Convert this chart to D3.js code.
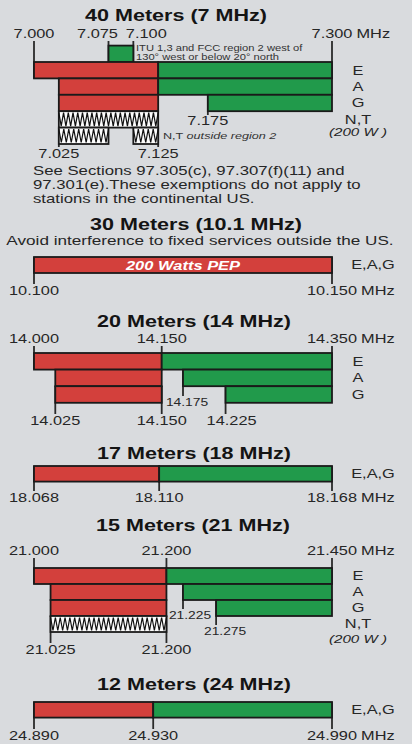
<!DOCTYPE html>
<html>
<head>
<meta charset="utf-8">
<script src="https://cdn.jsdelivr.net/npm/d3@7"></script>
<style>
  html, body { margin: 0; padding: 0; background: #d9dbde; }
  svg { display: block; font-family: "Liberation Sans", Arial, sans-serif; }
</style>
</head>
<body>
<svg id="chart" width="412" height="744"></svg>
<script>
// ---- band data ----
const titles = ["40 Meters (7 MHz)", "30 Meters (10.1 MHz)", "20 Meters (14 MHz)",
                "17 Meters (18 MHz)", "15 Meters (21 MHz)", "12 Meters (24 MHz)"];
const edges = [[7.000, 7.300], [10.100, 10.150], [14.000, 14.350],
               [18.068, 18.168], [21.000, 21.450], [24.890, 24.990]];

// segments: [row, from MHz, to MHz, kind]  cw = red, ph = green, nt = zigzag
const seg40 = [
  ["ITU", 7.075, 7.100, "ph"],
  ["E", 7.000, 7.125, "cw"], ["E", 7.125, 7.300, "ph"],
  ["A", 7.025, 7.125, "cw"], ["A", 7.125, 7.300, "ph"],
  ["G", 7.025, 7.125, "cw"], ["G", 7.175, 7.300, "ph"],
  ["N,T", 7.025, 7.125, "nt"],
  ["N,T 2", 7.025, 7.075, "nt"], ["N,T 2", 7.100, 7.125, "nt"]
];
const seg30 = [["E,A,G", 10.100, 10.150, "cw"]];
const seg20 = [
  ["E", 14.000, 14.150, "cw"], ["E", 14.150, 14.350, "ph"],
  ["A", 14.025, 14.150, "cw"], ["A", 14.175, 14.350, "ph"],
  ["G", 14.025, 14.150, "cw"], ["G", 14.225, 14.350, "ph"]
];
const seg17 = [["E,A,G", 18.068, 18.110, "cw"], ["E,A,G", 18.110, 18.168, "ph"]];
const seg15 = [
  ["E", 21.000, 21.200, "cw"], ["E", 21.200, 21.450, "ph"],
  ["A", 21.025, 21.200, "cw"], ["A", 21.225, 21.450, "ph"],
  ["G", 21.025, 21.200, "cw"], ["G", 21.275, 21.450, "ph"],
  ["N,T", 21.025, 21.200, "nt"]
];
const seg12 = [["E,A,G", 24.890, 24.930, "cw"], ["E,A,G", 24.930, 24.990, "ph"]];

// tick labels: [MHz, where the label sits]
const ticks40 = [[7.000, "top"], [7.075, "top"], [7.100, "top"], [7.300, "top"],
                 [7.175, "mid"], [7.025, "bottom"], [7.125, "bottom"]];
const ticks30 = [[10.100, "bottom"], [10.150, "bottom"]];
const ticks20 = [[14.000, "top"], [14.150, "top"], [14.350, "top"], [14.175, "mid"],
                 [14.025, "bottom"], [14.150, "bottom"], [14.225, "bottom"]];
const ticks17 = [[18.068, "bottom"], [18.110, "bottom"], [18.168, "bottom"]];
const ticks15 = [[21.000, "top"], [21.200, "top"], [21.450, "top"], [21.225, "mid"],
                 [21.275, "low"], [21.025, "bottom"], [21.200, "bottom"]];
const ticks12 = [[24.890, "bottom"], [24.930, "bottom"], [24.990, "bottom"]];

// licence class labels at the right
const classes40 = ["E", "A", "G", "N,T"];
const classes20 = ["E", "A", "G"];
const classes15 = ["E", "A", "G", "N,T"];
const classesAll = ["E,A,G"];

const ituNote = ["ITU 1,3 and FCC region 2 west of", "130\u00b0 west or below 20\u00b0 north"];
const note40 = ["See Sections 97.305(c), 97.307(f)(11) and",
                "97.301(e).These exemptions do not apply to",
                "stations in the continental US."];
const note30 = "Avoid interference to fixed services outside the US.";
const power30 = "200 Watts PEP";
const powerNT = "(200 W )";

// ---- drawing ----
const SX = 1.33;          // the picture is stretched horizontally
const red = "#d3403c", green = "#219a4b", ink = "#1a1a1a";
const svg = d3.select("#chart");
svg.append("rect").attr("width", 412).attr("height", 744).attr("fill", "#d9dbde");

function label(g, x, y, s, o = {}) {
  return g.append("text")
    .attr("transform", `translate(${x},${y}) scale(${SX},1)`)
    .attr("text-anchor", o.anchor || "middle")
    .attr("font-size", o.size || 12.3)
    .attr("font-weight", o.weight || "normal")
    .attr("font-style", o.style || "normal")
    .attr("fill", o.fill || "#262626")
    .text(s);
}

// label nudges where the original staggers them off the tick
const nudge = { "7.075": -11, "7.100": 13, "14.175": 4, "14.225": 6, "21.225": 7, "21.275": 9 };

function drawBand(cfg) {
  const g = svg.append("g");
  const x = d3.scaleLinear().domain(cfg.edges).range([34, 332]);
  const y = d3.scaleBand().domain(cfg.rows)
    .range([cfg.rowTop, cfg.rowTop + cfg.rowH * cfg.rows.length]);
  const fmt = d3.format(".3f");
  const same = (a, b) => Math.abs(a - b) < 1e-9;

  label(g, cfg.titleX, cfg.titleY, cfg.title, { size: 16.2, weight: "bold", fill: "#141414" });

  // ticks (drawn under the bars)
  const labelY = { top: cfg.topY, mid: cfg.midY, low: cfg.lowY, bottom: cfg.bottomY };
  cfg.ticks.forEach(([v, side]) => {
    const rowsHit = cfg.segs.filter(s => same(s[1], v) || same(s[2], v))
      .map(s => cfg.rows.indexOf(s[0]));
    const first = d3.min(rowsHit), last = d3.max(rowsHit);
    let y1, y2;
    if (side === "top") {
      y1 = cfg.topY + 3; y2 = y(cfg.rows[first]) + y.bandwidth();
    } else {
      y1 = y(cfg.rows[last]);
      y2 = labelY[side] - (side === "bottom" ? 11 : 10);
    }
    g.append("line").attr("x1", x(v)).attr("x2", x(v)).attr("y1", y1).attr("y2", y2)
      .attr("stroke", "#2a2a2a").attr("stroke-width", 1.8);

    const key = fmt(v);
    const lx = x(v) + (nudge[key] || 0);
    const small = (side === "mid" || side === "low") && cfg.smallMid;
    const t = label(g, lx, labelY[side], key, { size: small ? 10.4 : 12.3 });
    if (same(v, cfg.edges[1])) {
      const w = t.node().getComputedTextLength() * SX;
      label(g, lx + w / 2 + 4, labelY[side], "MHz", { anchor: "start", size: 12.3 });
    }
  });

  // bars
  cfg.segs.forEach(([row, a, b, kind]) => {
    const x0 = x(a), x1 = x(b), y0 = y(row), h = y.bandwidth();
    g.append("rect").attr("x", x0).attr("y", y0).attr("width", x1 - x0).attr("height", h)
      .attr("fill", kind === "cw" ? red : kind === "ph" ? green : "#fbfbfb")
      .attr("stroke", ink).attr("stroke-width", 1.8);
    if (kind === "nt") {
      const n = Math.round((x1 - x0) / 4.8);
      const step = (x1 - x0) / n;
      const pts = d3.range(n * 2 + 1).map(i => [x0 + i * step / 2, i % 2 ? y0 + h - 1.5 : y0 + 1.5]);
      g.append("path").attr("d", d3.line()(pts))
        .attr("fill", "none").attr("stroke", "#111").attr("stroke-width", 1.2);
    }
  });

  // class letters on the right
  cfg.classes.forEach(c => {
    const single = cfg.classes.length === 1;
    label(g, single ? 373 : 358, y(c) + y.bandwidth() / 2 + 4.3, c, { size: 12.3 });
  });
  return { g, x, y };
}

// 40 m
const b40 = drawBand({
  title: titles[0], titleX: 176, titleY: 21, edges: edges[0], segs: seg40, ticks: ticks40,
  rows: ["ITU", "E", "A", "G", "N,T", "N,T 2"], rowTop: 45.6, rowH: 16.4,
  topY: 38, midY: 125, bottomY: 158, classes: classes40
});
ituNote.forEach((s, i) => label(b40.g, 136, 50.5 + i * 9.5, s, { anchor: "start", size: 8.4, fill: "#333" }));
const nt = label(b40.g, 163, 138.5, "N,T ", { anchor: "start", size: 9.5, fill: "#333" });
nt.append("tspan").attr("font-style", "italic").text("outside region 2");
label(b40.g, 358, 136, powerNT, { size: 11.4, style: "italic" });
note40.forEach((s, i) => label(b40.g, 33, 175 + i * 14, s, { anchor: "start", size: 12.6 }));

// 30 m
const b30 = drawBand({
  title: titles[1], titleX: 196, titleY: 230, edges: edges[1], segs: seg30, ticks: ticks30,
  rows: ["E,A,G"], rowTop: 257, rowH: 16, bottomY: 295, classes: classesAll
});
label(b30.g, 200, 245, note30, { size: 12.9 });
label(b30.g, b30.x(10.125), 269.5, power30, { size: 12.4, weight: "bold", style: "italic", fill: "#fff" });

// 20 m
drawBand({
  title: titles[2], titleX: 194, titleY: 327, edges: edges[2], segs: seg20, ticks: ticks20,
  rows: ["E", "A", "G"], rowTop: 353, rowH: 16.6,
  topY: 343, midY: 406, bottomY: 425, classes: classes20, smallMid: true
});

// 17 m
drawBand({
  title: titles[3], titleX: 194, titleY: 459, edges: edges[3], segs: seg17, ticks: ticks17,
  rows: ["E,A,G"], rowTop: 466, rowH: 15.6, bottomY: 502, classes: classesAll
});

// 15 m
const b15 = drawBand({
  title: titles[4], titleX: 193, titleY: 531, edges: edges[4], segs: seg15, ticks: ticks15,
  rows: ["E", "A", "G", "N,T"], rowTop: 568, rowH: 16,
  topY: 555, midY: 619, lowY: 635, bottomY: 654, classes: classes15, smallMid: true
});
label(b15.g, 358, 643, powerNT, { size: 11.4, style: "italic" });

// 12 m
drawBand({
  title: titles[5], titleX: 194, titleY: 690, edges: edges[5], segs: seg12, ticks: ticks12,
  rows: ["E,A,G"], rowTop: 702, rowH: 15.6, bottomY: 740, classes: classesAll
});
</script>
</body>
</html>
